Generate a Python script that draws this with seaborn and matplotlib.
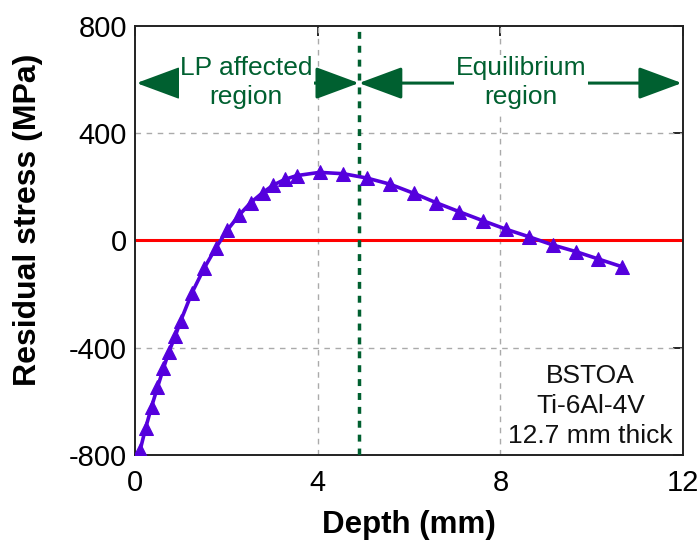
import matplotlib
matplotlib.use("Agg")
import matplotlib.pyplot as plt
import seaborn as sns
import pandas as pd
from matplotlib.patches import FancyArrowPatch

depth = [0.11, 0.23, 0.36, 0.49, 0.62, 0.74, 0.88, 1.00, 1.24, 1.51, 1.77, 2.02,
         2.28, 2.53, 2.79, 3.03, 3.28, 3.54, 4.04, 4.56, 5.07, 5.58, 6.10, 6.59,
         7.10, 7.61, 8.12, 8.62, 9.15, 9.66, 10.14, 10.66]
stress = [-782, -700, -620, -548, -477, -415, -356, -299, -197, -104, -27, 39,
          95, 141, 178, 207, 228, 242, 254, 249, 233, 210, 176, 141,
          107, 74, 42, 14, -17, -42, -69, -98]
xticks = [0, 4, 8, 12]
yticks = [-800, -400, 0, 400, 800]
boundary = 4.9
region_labels = ["LP affected\nregion", "Equilibrium\nregion"]
info_text = "BSTOA\nTi-6Al-4V\n12.7 mm thick"

sns.set_theme(style="white")
plt.rcParams['font.family'] = ['Liberation Sans', 'DejaVu Sans']
plt.rcParams['axes.unicode_minus'] = False
plt.rcParams['text.color'] = 'black'
plt.rcParams['axes.labelcolor'] = 'black'

df = pd.DataFrame({"Depth": depth, "Stress": stress})

fig = plt.figure(figsize=(7, 5.41), dpi=100)
ax = fig.add_axes([0.193, 0.159, 0.783, 0.793])

purple = "#5500dd"
green = "#006030"

ax.axhline(0, color="#ff0000", lw=2.2, zorder=2)
sns.lineplot(data=df, x="Depth", y="Stress", ax=ax, color=purple, lw=2.6,
             marker="^", markersize=10, markeredgecolor=purple, zorder=4)
ax.axvline(boundary, color=green, lw=2.5, ls=(0, (2, 2)), zorder=3)

ax.set_xlim(0, 12)
ax.set_ylim(-800, 800)
ax.set_xticks(xticks)
ax.set_yticks(yticks)
ax.tick_params(direction="in", length=7, width=1.2, top=True, right=True,
               labelsize=21, colors="black")
ax.tick_params(axis="x", pad=10)
ax.tick_params(axis="y", pad=6)
for s in ax.spines.values():
    s.set_color("#222222")
    s.set_linewidth(1.4)

for v in [4, 8]:
    ax.axvline(v, color="#aaaaaa", lw=1.0, ls=(0, (4, 4)), zorder=1)
for v in [-400, 400]:
    ax.axhline(v, color="#aaaaaa", lw=1.0, ls=(0, (4, 4)), zorder=1)

ax.set_xlabel("Depth (mm)", fontsize=22.5, fontweight="bold")
ax.set_ylabel("Residual stress (MPa)", fontsize=23, fontweight="bold")
ax.xaxis.set_label_coords(0.5, -0.128)
ax.yaxis.set_label_coords(-0.168, 0.548)

arrow_y = 587
style = "<|-|>,head_length=2.7,head_width=1.0"
for x0, x1 in [(0.03, boundary), (boundary, 11.97)]:
    a = FancyArrowPatch((x0, arrow_y), (x1, arrow_y), arrowstyle=style,
                        mutation_scale=10, color=green, lw=2.2,
                        shrinkA=0, shrinkB=0, zorder=5)
    ax.add_patch(a)

ax.text(2.43, 588, region_labels[0], ha="center", va="center", fontsize=19,
        color=green, linespacing=1.26, zorder=6,
        bbox=dict(facecolor="white", edgecolor="none", pad=1))
ax.text(8.45, 588, region_labels[1], ha="center", va="center", fontsize=19,
        color=green, linespacing=1.26, zorder=6,
        bbox=dict(facecolor="white", edgecolor="none", pad=1))

ax.text(9.97, -617, info_text, ha="center", va="center", fontsize=19,
        color="#111111", linespacing=1.31, zorder=6)

fig.savefig("out.png", dpi=100)
